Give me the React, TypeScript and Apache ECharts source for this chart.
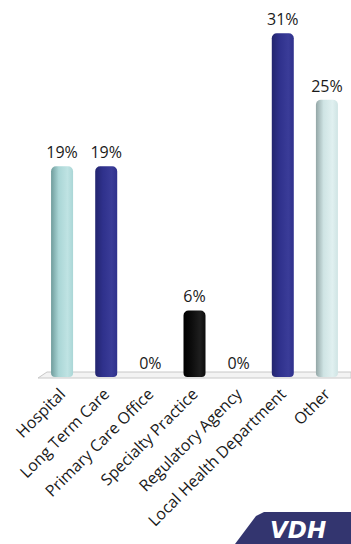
import React, { useEffect, useRef } from "react";
import * as echarts from "echarts";

const categories = [
  "Hospital",
  "Long Term Care",
  "Primary Care Office",
  "Specialty Practice",
  "Regulatory Agency",
  "Local Health Department",
  "Other",
];
const shares = [19, 19, 0, 6, 0, 31, 25];
// cylinder shading: [shadow edge, body, highlight]
const barTones = [
  ["#6f9c9c", "#aad6d6", "#bfe3e3"],
  ["#23256f", "#2f318c", "#3a3c98"],
  ["#e6e6e6", "#f4f4f4", "#ffffff"],
  ["#000000", "#0c0c0c", "#1e1e1e"],
  ["#bfe6ea", "#d8f1f3", "#e6f7f8"],
  ["#23256f", "#2f318c", "#3a3c98"],
  ["#93a6a6", "#cfe4e4", "#e0f0f0"],
];

const FONT = "'Open Sans', 'DejaVu Sans', sans-serif";

export default function App() {
  const ref = useRef<HTMLDivElement>(null);

  useEffect(() => {
    if (!ref.current) return;
    const chart = echarts.init(ref.current, null, { renderer: "svg" });

    const data = shares.map((v, i) => ({
      value: v,
      itemStyle: {
        color: new echarts.graphic.LinearGradient(0, 0, 1, 0, [
          { offset: 0, color: barTones[i][0] },
          { offset: 0.35, color: barTones[i][1] },
          { offset: 0.75, color: barTones[i][2] },
          { offset: 1, color: barTones[i][1] },
        ]),
      },
    }));

    chart.setOption({
      animation: false,
      backgroundColor: "#ffffff",
      grid: { left: 40, right: 2, top: 11, bottom: 167, containLabel: false },
      xAxis: {
        type: "category",
        data: categories,
        axisLine: { show: false },
        axisTick: { show: false },
        axisLabel: {
          interval: 0,
          rotate: 45,
          margin: 14,
          fontSize: 16,
          color: "#1a1a1a",
          fontFamily: FONT,
        },
      },
      yAxis: {
        type: "value",
        min: 0,
        max: 33,
        show: false,
        splitLine: { show: false },
      },
      graphic: [
        {
          type: "polygon",
          z: 0,
          shape: {
            points: [
              [47, 372],
              [351, 372],
              [351, 378],
              [38, 378],
            ],
          },
          style: { fill: "#f3f3f3", stroke: "#c8c8c8", lineWidth: 1 },
        },
        {
          type: "group",
          z: 10,
          children: [
            {
              type: "polygon",
              shape: {
                points: [
                  [264, 512],
                  [351, 512],
                  [351, 544],
                  [235, 544],
                  [256, 516],
                ],
              },
              style: { fill: "#33356f" },
            },
            {
              type: "text",
              x: 270,
              y: 518,
              style: {
                text: "VDH",
                fill: "#ffffff",
                font: "italic bold 23px 'DejaVu Sans', sans-serif",
              },
            },
          ],
        },
      ],
      series: [
        {
          type: "bar",
          data,
          barWidth: 22,
          z: 2,
          itemStyle: { borderRadius: [5, 5, 4, 4] },
          label: {
            show: true,
            position: "top",
            distance: 6,
            formatter: "{c}%",
            fontSize: 16,
            color: "#1a1a1a",
            fontFamily: FONT,
          },
        },
      ],
    });

    return () => chart.dispose();
  }, []);

  return (
    <div
      ref={ref}
      style={{ width: 351, height: 544, position: "absolute", left: 0, top: 0 }}
    />
  );
}
